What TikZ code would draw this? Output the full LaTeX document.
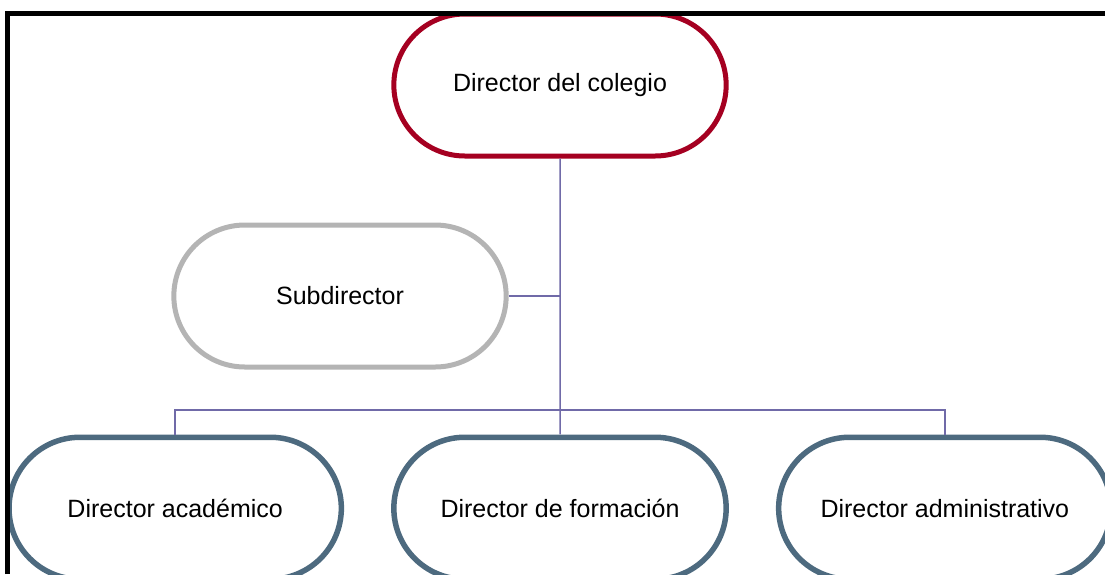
\documentclass[tikz,border=0pt]{standalone}
\usepackage{fontspec}
\setmainfont{Liberation Sans}
\usetikzlibrary{positioning, shapes.misc}

\definecolor{headred}{RGB}{165,0,33}
\definecolor{subgray}{RGB}{180,180,180}
\definecolor{unitslate}{RGB}{77,106,127}
\definecolor{linkviolet}{RGB}{112,106,168}

\begin{document}
\begin{tikzpicture}[
  x=1pt, y=-1pt,
  pill/.style={draw, line width=5pt, rounded rectangle, fill=white, minimum width=339pt, minimum height=142pt, align=center, font=\fontsize{25}{30}\selectfont},
  head/.style={pill, draw=headred},
  deputy/.style={pill, draw=subgray},
  unit/.style={pill, draw=unitslate, line width=5.5pt},
  link/.style={draw=linkviolet, line width=1.5pt},
  frame/.style={draw=black, line width=5pt}
]
\path[use as bounding box, clip] (0,0) rectangle (1105,574);

% Top of the chart
\node[head] (dir) at (560,85) {Director del colegio};

% Deputy on the side
\node[deputy] (sub) at (340,296) {Subdirector};

% Bottom row
\node[unit, below=276pt of dir] (form) {Director de formación};
\node[unit, left=47pt of form] (acad) {Director académico};
\node[unit, right=47pt of form] (admin) {Director administrativo};

% Connectors
\coordinate (bus) at (560,410);
\draw[link] (dir) -- (form);
\draw[link] (sub.east) -- (sub.east -| dir.south);
\draw[link] (acad.north) |- (bus) -| (admin.north);

% Page frame
\draw[frame] (7,574) -- (7,13) -- (1105,13);

\end{tikzpicture}
\end{document}
